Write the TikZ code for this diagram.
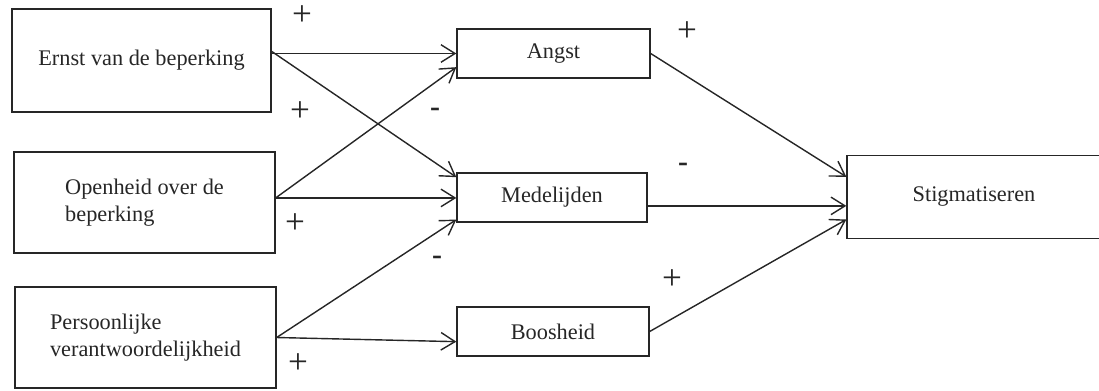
\documentclass[tikz,border=0pt]{standalone}
\usepackage{fontspec}
\setmainfont{Liberation Serif}
\usetikzlibrary{arrows.meta}

\begin{document}
\begin{tikzpicture}[x=0.02cm, y=-0.02cm, line width=0.8pt, color=black!85,
                    >={Straight Barb[length=8pt,width=10pt]},
                    main node/.style={rectangle,draw,align=left,font=\fontsize{12.7}{15.6}\selectfont},
                    plus node/.style={font=\fontsize{20}{20}\selectfont},
                    min node/.style={font=\fontsize{17}{17}\selectfont\bfseries}]
  \useasboundingbox (0,0) rectangle (1099,390);

  \node[main node,minimum width=5.18cm,minimum height=2.06cm] (ernst) at (141.5,60.5) {Ernst van de beperking};
  \node[main node,minimum width=5.22cm,minimum height=2.02cm] (open) at (144.5,202.5) {Openheid over de\\beperking};
  \node[main node,minimum width=5.22cm,minimum height=2.02cm] (pers) at (145.5,337.5) {Persoonlijke\\verantwoordelijkheid};

    \node[main node,minimum width=3.86cm,minimum height=0.98cm] (angst) at (553.5,53.5) {Angst};
    \node[main node,minimum width=3.8cm,minimum height=0.98cm] (medel) at (552,197.5) {Medelijden};
    \node[main node,minimum width=3.84cm,minimum height=0.98cm] (boos) at (553,331.5) {Boosheid};

      \node[main node,minimum width=5.08cm,minimum height=1.66cm] (stig) at (974,197) {Stigmatiseren};

\path[->]
    (ernst.east |- angst.west) edge (angst.west)
    (ernst.4) edge (medel.168)
    (open.2) edge (angst.188)
    (open.2) edge (open.2 -| medel.west)
    (pers.east) edge (medel.193)
    (pers.east) edge (boos.186)

    (angst.east) edge (stig.171)
    (medel.-5) edge (medel.-5 -| stig.west)
    (boos.east) edge (stig.190);

  % signs
  \node[plus node] (p1) at (302,16) {+};
  \node[plus node] (p2) at (300,112) {+};
  \node[min node] (m1) at (435,112) {-};
  \node[plus node] (p3) at (295,224) {+};
  \node[min node] (m2) at (437,260) {-};
  \node[plus node] (p4) at (298,364) {+};
  \node[plus node] (p5) at (687,32) {+};
  \node[min node] (m3) at (683,167) {-};
  \node[plus node] (p6) at (672,280) {+};

\end{tikzpicture}
\end{document}
